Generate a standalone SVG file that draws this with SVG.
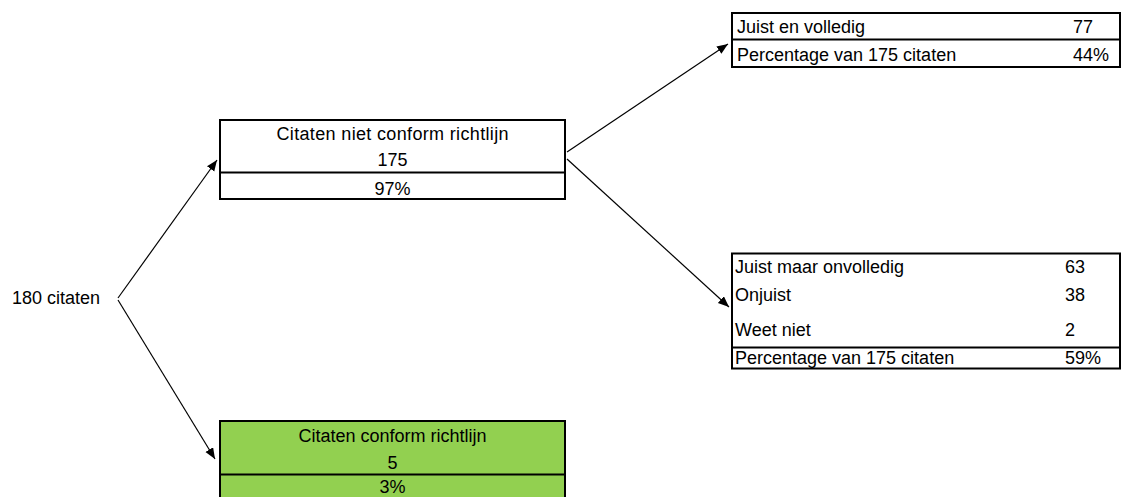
<svg xmlns="http://www.w3.org/2000/svg" width="1122" height="497" viewBox="0 0 1122 497">
<defs>
<style>
text{font-family:"Liberation Sans",Arial,sans-serif;font-size:18px;fill:#000}
.c{text-anchor:middle}
.box{fill:#fff;stroke:#000;stroke-width:2}
.green{fill:#92D050;stroke:#000;stroke-width:2}
.div{stroke:#000;stroke-width:2}
.con{stroke:#000;stroke-width:1.2;fill:none;marker-end:url(#ah)}
</style>
<marker id="ah" markerUnits="userSpaceOnUse" markerWidth="12" markerHeight="10" refX="11" refY="4.5" orient="auto">
<path d="M0,0 L11,4.5 L0,9 z" fill="#000"/>
</marker>
</defs>
<rect width="1122" height="497" fill="#fff"/>
<g id="root">
<text x="12" y="304">180 citaten</text>
</g>
<g id="connectors">
<line class="con" x1="118" y1="298" x2="217" y2="160"/>
<line class="con" x1="118" y1="300" x2="215" y2="459"/>
<line class="con" x1="567" y1="152" x2="728" y2="44"/>
<line class="con" x1="567" y1="159" x2="729" y2="307"/>
</g>
<g id="niet-conform">
<rect class="box" x="220" y="120" width="345" height="79"/>
<line class="div" x1="220" y1="172.5" x2="565" y2="172.5"/>
<text class="c" x="392.5" y="140" textLength="232">Citaten niet conform richtlijn</text>
<text class="c" x="392.5" y="166">175</text>
<text class="c" x="392.5" y="195">97%</text>
</g>
<g id="juist-volledig">
<rect class="box" x="732" y="13" width="388" height="54"/>
<line class="div" x1="732" y1="39.5" x2="1120" y2="39.5"/>
<text x="737" y="33">Juist en volledig</text>
<text x="1073" y="33">77</text>
<text x="737" y="61">Percentage van 175 citaten</text>
<text x="1073" y="61">44%</text>
</g>
<g id="onvolledig">
<rect class="box" x="732" y="253.5" width="388" height="115"/>
<line class="div" x1="732" y1="347.5" x2="1120" y2="347.5"/>
<text x="735" y="273">Juist maar onvolledig</text>
<text x="1065" y="273">63</text>
<text x="735" y="301">Onjuist</text>
<text x="1065" y="301">38</text>
<text x="735" y="336">Weet niet</text>
<text x="1065" y="336">2</text>
<text x="735" y="364">Percentage van 175 citaten</text>
<text x="1065" y="364">59%</text>
</g>
<g id="conform">
<rect class="green" x="220" y="421" width="345" height="90"/>
<line class="div" x1="220" y1="474.5" x2="565" y2="474.5"/>
<text class="c" x="392.5" y="442">Citaten conform richtlijn</text>
<text class="c" x="392.5" y="469">5</text>
<text class="c" x="392.5" y="493">3%</text>
</g>
</svg>
